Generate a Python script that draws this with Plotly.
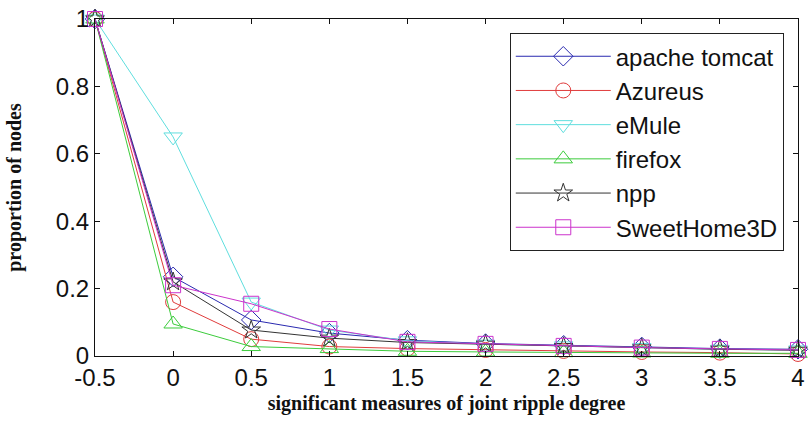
import plotly.graph_objects as go

x_vals = [-0.5, 0, 0.5, 1, 1.5, 2, 2.5, 3, 3.5, 4]

series_names = ["apache tomcat", "Azureus", "eMule", "firefox", "npp", "SweetHome3D"]
apache_tomcat = [1.0, 0.235, 0.107, 0.068, 0.047, 0.037, 0.032, 0.027, 0.022, 0.020]
azureus = [1.0, 0.160, 0.050, 0.028, 0.022, 0.018, 0.015, 0.012, 0.010, 0.006]
emule = [1.0, 0.650, 0.160, 0.077, 0.045, 0.035, 0.030, 0.025, 0.020, 0.018]
firefox = [1.0, 0.095, 0.028, 0.022, 0.014, 0.012, 0.010, 0.009, 0.008, 0.008]
npp = [1.0, 0.220, 0.077, 0.053, 0.040, 0.035, 0.028, 0.024, 0.020, 0.017]
sweethome3d = [1.0, 0.210, 0.155, 0.080, 0.042, 0.036, 0.030, 0.025, 0.021, 0.018]

series_values = [apache_tomcat, azureus, emule, firefox, npp, sweethome3d]
colors = ["#2a2ab0", "#e03c3c", "#5fdede", "#3ccc3c", "#333333", "#cc33cc"]
symbols = ["diamond-open", "circle-open", "triangle-down-open", "triangle-up-open", "star-open", "square-open"]
sizes = [15, 15, 16, 16, 14, 15]

x_ticks = [-0.5, 0, 0.5, 1, 1.5, 2, 2.5, 3, 3.5, 4]
x_tick_labels = ["-0.5", "0", "0.5", "1", "1.5", "2", "2.5", "3", "3.5", "4"]
y_ticks = [0, 0.2, 0.4, 0.6, 0.8, 1]
y_tick_labels = ["0", "0.2", "0.4", "0.6", "0.8", "1"]

fig = go.Figure()
for i, (name, vals) in enumerate(zip(series_names, series_values)):
    fig.add_trace(go.Scatter(
        x=x_vals, y=vals, name=name, mode="lines+markers",
        line=dict(color=colors[i], width=1),
        marker=dict(symbol=symbols[i], size=sizes[i], color=colors[i],
                    line=dict(color=colors[i], width=1)),
        legendgroup=name,
        cliponaxis=False,
    ))

axis_font = dict(family="Liberation Sans, Arial, sans-serif", size=24, color="#111111")
title_font = dict(family="Liberation Serif, Times New Roman, serif", size=20, color="#111111")

fig.update_layout(
    width=810, height=421,
    margin=dict(l=95, r=5, t=19, b=65),
    paper_bgcolor="white", plot_bgcolor="white",
    showlegend=True,
    legend=dict(
        x=0.59, y=0.958, xanchor="left", yanchor="top",
        bgcolor="white", bordercolor="#222222", borderwidth=1,
        font=dict(family="Liberation Sans, Arial, sans-serif", size=24, color="#111111"),
        tracegroupgap=0, itemwidth=95,
    ),
    xaxis=dict(
        range=[-0.5, 4], tickmode="array", tickvals=x_ticks, ticktext=x_tick_labels,
        ticks="inside", ticklen=5, tickcolor="#111111", mirror="ticks",
        showline=True, linecolor="#111111", linewidth=1, showgrid=False, zeroline=False,
        tickfont=axis_font, ticklabeloverflow="allow",
        title=dict(text="<b>significant measures of joint ripple degree</b>", font=title_font, standoff=6),
    ),
    yaxis=dict(
        range=[0, 1], tickmode="array", tickvals=y_ticks, ticktext=y_tick_labels,
        ticks="inside", ticklen=5, tickcolor="#111111", mirror="ticks",
        showline=True, linecolor="#111111", linewidth=1, showgrid=False, zeroline=False,
        tickfont=axis_font, ticklabeloverflow="allow",
        title=dict(text="<b>proportion of nodes</b>", font=title_font, standoff=28),
    ),
)

fig.write_html("out.html", config={"displayModeBar": False},
               post_script="document.body.style.margin='0';document.body.style.overflow='hidden';")
